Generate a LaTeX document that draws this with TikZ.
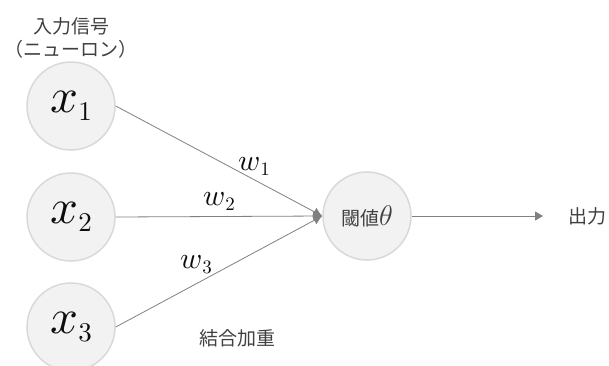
\documentclass[tikz,border=0pt]{standalone}
\usepackage{fontspec}
\newfontfamily\jp{Noto Sans CJK JP}
\usetikzlibrary{arrows.meta}
\definecolor{cfill}{HTML}{F2F2F2}
\definecolor{cborder}{HTML}{D9D9D9}
\definecolor{lgray}{HTML}{808080}
\definecolor{tgray}{HTML}{404040}
\definecolor{mblack}{HTML}{0D0D0D}
\newcommand{\bigvar}[2]{\scalebox{4.9}{$#1$}\raisebox{-8pt}{\scalebox{2.7}{#2}}}
\newcommand{\wvar}[1]{\scalebox{3.0}{$w$}\raisebox{-5pt}{\scalebox{1.9}{#1}}}
\begin{document}
\begin{tikzpicture}[x=1pt,y=-1pt,
  neuron/.style={circle,draw=cborder,line width=1.5pt,fill=cfill,minimum size=88pt,inner sep=0pt},
  bigmath/.style={text=mblack},
  link/.style={draw=lgray,line width=0.8pt},
  intip/.style={-{Latex[length=9pt,width=9pt]}},
  jtext/.style={font=\jp\fontsize{19}{23}\selectfont,text=tgray},
  wlab/.style={text=mblack,inner sep=0pt}]
\useasboundingbox (0,0) rectangle (609,365);
\node[neuron,bigmath] (x1) at (71,106) {\bigvar{x}{1}};
\node[neuron,bigmath] (x2) at (71,217) {\bigvar{x}{2}};
\node[neuron,bigmath] (x3) at (71,327) {\bigvar{x}{3}};
\node[neuron,jtext] (th) at (367,216) {閾値\scalebox{1.65}{$\theta$}};
\draw[link,intip] (x1.east) -- (th.west);
\draw[link,intip] (x2.east) -- (th.west);
\draw[link,intip] (x3.east) -- (th.west);
\coordinate (out) at (543,216);
\draw[link,-{Triangle[length=8pt,width=9pt]}] (th.east) -- (out);
\node[jtext,anchor=west,inner sep=0pt] (o) at (568,216) {出力};
\node[wlab] (w1) at (254,167) {\wvar{1}};
\node[wlab] (w2) at (219,202) {\wvar{2}};
\node[wlab] (w3) at (196,265) {\wvar{3}};
\node[jtext,align=center] (inlab) at (71,38) {入力信号\\（ニューロン）};
\node[jtext] (kw) at (237,338) {結合加重};
\end{tikzpicture}
\end{document}
